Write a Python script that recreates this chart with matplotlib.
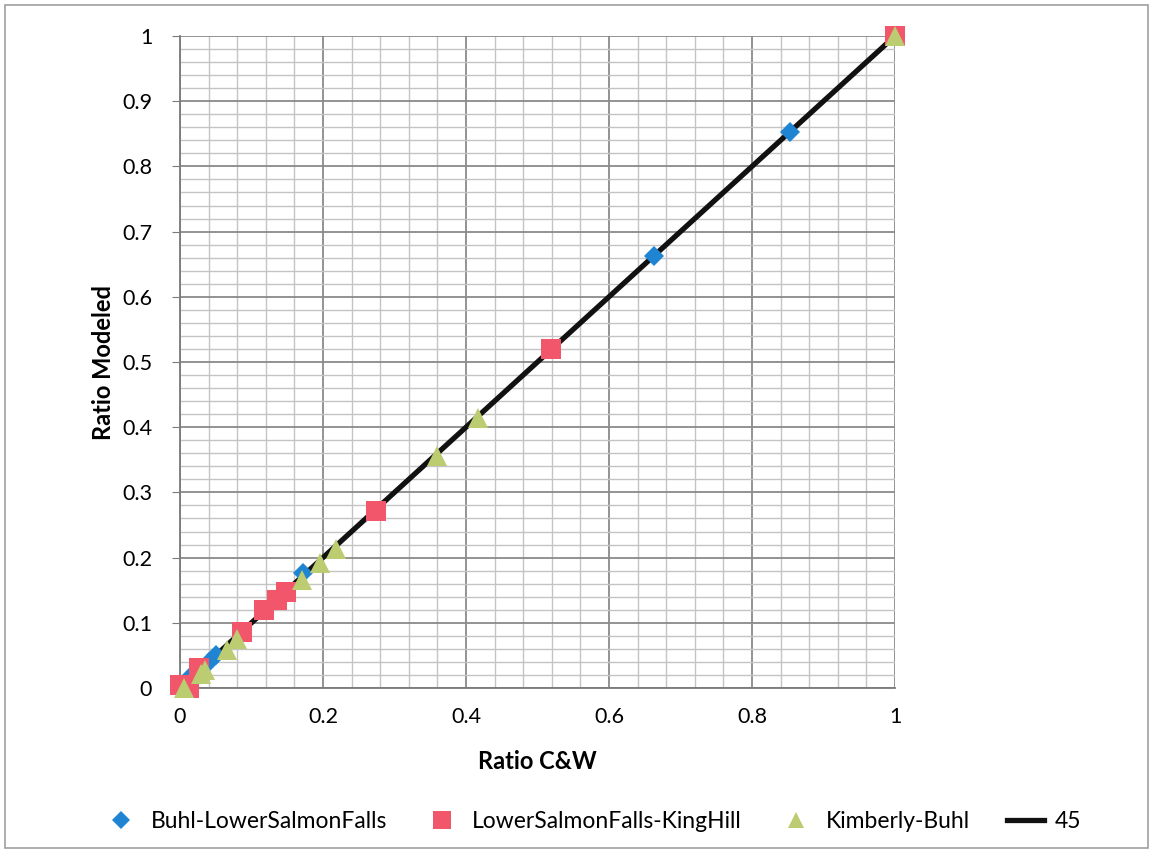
import matplotlib
matplotlib.use("Agg")
import matplotlib.pyplot as plt
from matplotlib.patches import Rectangle
from matplotlib.lines import Line2D
import numpy as np

plt.rcParams['font.family'] = ['Lato', 'DejaVu Sans']

# Data
blue_x = [0.0, 0.014, 0.04, 0.05, 0.172, 0.663, 0.853, 1.0]
blue_y = [0.0, 0.017, 0.04, 0.051, 0.176, 0.663, 0.853, 1.0]

red_x = [0.0, 0.012, 0.027, 0.087, 0.118, 0.135, 0.148, 0.274, 0.519, 1.0]
red_y = [0.005, 0.0, 0.03, 0.086, 0.12, 0.135, 0.147, 0.271, 0.52, 1.0]

green_x = [0.005, 0.03, 0.035, 0.066, 0.08, 0.171, 0.196, 0.218, 0.359, 0.417, 1.0]
green_y = [0.0, 0.022, 0.027, 0.058, 0.075, 0.166, 0.191, 0.213, 0.356, 0.414, 1.0]

line_x = [0.0, 1.0]
line_y = [0.0, 1.0]

xticks = [0, 0.2, 0.4, 0.6, 0.8, 1.0]
xtick_labels = ["0", "0.2", "0.4", "0.6", "0.8", "1"]
yticks = [0, 0.1, 0.2, 0.3, 0.4, 0.5, 0.6, 0.7, 0.8, 0.9, 1.0]
ytick_labels = ["0", "0.1", "0.2", "0.3", "0.4", "0.5", "0.6", "0.7", "0.8", "0.9", "1"]

W, H = 1151, 859
fig = plt.figure(figsize=(W / 100, H / 100), dpi=100)

# outer border
fig.patches.append(Rectangle((5 / W, 1 - 848 / H), (1148 - 5) / W, (848 - 5) / H,
                             transform=fig.transFigure, fill=False,
                             edgecolor='#a0a0a0', linewidth=1.2))

ax = fig.add_axes([180 / W, 1 - 688 / H, 715 / W, 652 / H])
ax.set_xlim(0, 1)
ax.set_ylim(0, 1)

ax.set_xticks(np.arange(0, 1.0001, 0.04), minor=True)
ax.set_yticks(np.arange(0, 1.0001, 0.02), minor=True)
ax.set_xticks(xticks)
ax.set_xticklabels(xtick_labels)
ax.set_yticks(yticks)
ax.set_yticklabels(ytick_labels)

ax.grid(True, which='minor', color='#c4c4c4', linewidth=1.0)
ax.grid(True, which='major', color='#8a8a8a', linewidth=1.3)
ax.set_axisbelow(True)

for s in ['top', 'right']:
    ax.spines[s].set_visible(False)
for s in ['left', 'bottom']:
    ax.spines[s].set_color('#7a7a7a')
    ax.spines[s].set_linewidth(1.3)

ax.tick_params(axis='both', which='minor', length=0)
ax.tick_params(axis='y', which='major', length=6, color='#7a7a7a', labelsize=15.5, pad=14)
ax.tick_params(axis='x', which='major', length=0, labelsize=15.5, pad=14)

ax.set_xlabel("Ratio C&W", fontsize=17, fontweight='bold', labelpad=16)
ax.set_ylabel("Ratio Modeled", fontsize=17, fontweight='bold', labelpad=5)

ax.plot(line_x, line_y, color='#111111', linewidth=3.8, zorder=3, solid_capstyle='butt')
ax.plot(blue_x, blue_y, linestyle='none', marker='D', markersize=10.5,
        color='#1f84d2', markeredgewidth=0, zorder=4, clip_on=False)
ax.plot(red_x, red_y, linestyle='none', marker='s', markersize=15,
        color='#f2566b', markeredgewidth=0, zorder=5, clip_on=False)
ax.plot(green_x, green_y, linestyle='none', marker='^', markersize=14,
        color='#bccc70', markeredgewidth=0, zorder=6, clip_on=False)

handles = [
    Line2D([], [], linestyle='none', marker='D', markersize=9, color='#1f84d2', markeredgewidth=0),
    Line2D([], [], linestyle='none', marker='s', markersize=13, color='#f2566b', markeredgewidth=0),
    Line2D([], [], linestyle='none', marker='^', markersize=12, color='#bccc70', markeredgewidth=0),
    Line2D([], [], color='#111111', linewidth=3.8),
]
labels = ["Buhl-LowerSalmonFalls", "LowerSalmonFalls-KingHill", "Kimberly-Buhl", "45"]
fig.legend(handles, labels, loc='center', bbox_to_anchor=(592 / W, 1 - 822 / H),
           ncol=4, frameon=False, fontsize=16.5, handlelength=1.6,
           handletextpad=0.5, columnspacing=1.6)

fig.savefig("out.png", dpi=100)
